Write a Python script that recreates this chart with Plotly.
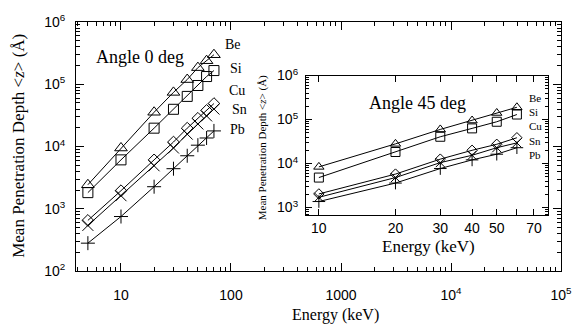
import plotly.graph_objects as go

# Mean penetration depth (Angstrom) versus beam energy (keV)
# Normal incidence (angle 0 deg)
energy_0 = [5, 10, 20, 30, 40, 50, 60, 70]
be_0 = [2430, 9460, 35500, 74000, 119000, 185000, 239000, 298000]
si_0 = [1815, 6100, 19700, 39600, 63800, 95500, 133000, 166000]
cu_0 = [650, 1950, 6100, 11800, 19700, 28400, 38000, 49000]
sn_0 = [540, 1620, 4900, 9460, 15800, 23000, 31000, 40000]
pb_0 = [280, 750, 2260, 4400, 7100, 10500, 13700, 17800]

# Oblique incidence (angle 45 deg)
energy_45 = [10, 20, 30, 40, 50, 60]
be_45 = [8400, 28000, 59600, 95000, 141000, 190000]
si_45 = [4800, 18300, 40600, 63000, 89000, 130000]
cu_45 = [2040, 5760, 12600, 20000, 27400, 38600]
sn_45 = [1710, 4800, 10500, 15400, 22900, 29500]
pb_45 = [1370, 3600, 7700, 12100, 16300, 22900]

elements = ["Be", "Si", "Cu", "Sn", "Pb"]
symbols = ["triangle-up-open", "square-open", "diamond-open", "x-thin-open", "cross-thin-open"]
sizes_main = [11, 10, 9, 11, 10]
sizes_inset = [9, 9, 8, 9, 9]

# Axis tick values and labels
main_x_ticks = [10, 100, 1000, 10000, 100000]
main_x_text = ["10", "100", "1000", "10<sup>4</sup>", "10<sup>5</sup>"]
main_y_ticks = [100, 1000, 10000, 100000, 1000000]
main_y_text = ["10<sup>2</sup>", "10<sup>3</sup>", "10<sup>4</sup>", "10<sup>5</sup>", "10<sup>6</sup>"]
inset_x_ticks = [10, 20, 30, 40, 50, 60, 70]
inset_x_text = ["10", "20", "30", "40", "50", "", "70"]
inset_y_ticks = [1000, 10000, 100000, 1000000]
inset_y_text = ["10<sup>3</sup>", "10<sup>4</sup>", "10<sup>5</sup>", "10<sup>6</sup>"]


def minor_log(lo_exp, hi_exp):
    vals = []
    for e in range(lo_exp, hi_exp):
        for m in range(2, 10):
            vals.append(m * 10 ** e)
    return vals


SANS = "Liberation Sans, Arial, sans-serif"
SERIF = "Liberation Serif, Times New Roman, serif"

fig = go.Figure()

main_sets = [be_0, si_0, cu_0, sn_0, pb_0]
for name, ys, sym, sz in zip(elements, main_sets, symbols, sizes_main):
    fig.add_trace(go.Scatter(
        x=energy_0, y=ys, name=name, mode="lines+markers",
        line=dict(color="black", width=1),
        marker=dict(symbol=sym, size=sz, color="black", line=dict(color="black", width=1)),
        xaxis="x", yaxis="y", showlegend=False,
    ))

inset_sets = [be_45, si_45, cu_45, sn_45, pb_45]
for name, ys, sym, sz in zip(elements, inset_sets, symbols, sizes_inset):
    fig.add_trace(go.Scatter(
        x=energy_45, y=ys, name=name, mode="lines+markers",
        line=dict(color="black", width=1),
        marker=dict(symbol=sym, size=sz, color="black", line=dict(color="black", width=1)),
        xaxis="x2", yaxis="y2", showlegend=False,
    ))

axis_common = dict(
    type="log", showgrid=False, zeroline=False, showline=True,
    linecolor="black", linewidth=1, mirror="ticks", ticks="inside",
    tickcolor="black", tickwidth=1, tickmode="array",
)

fig.update_layout(
    width=585, height=330,
    margin=dict(l=76, r=24, t=20, b=59),
    paper_bgcolor="white", plot_bgcolor="white",
    xaxis=dict(
        **axis_common, domain=[0, 1], anchor="y",
        range=[0.591, 5.0], tickvals=main_x_ticks, ticktext=main_x_text,
        ticklen=8, ticklabelstandoff=11,
        tickfont=dict(family=SANS, size=14, color="black"),
        minor=dict(tickmode="array", tickvals=minor_log(0, 5), ticks="inside",
                   ticklen=4, tickcolor="black", tickwidth=1, showgrid=False),
    ),
    yaxis=dict(
        **axis_common, domain=[0, 1], anchor="x",
        range=[2.0, 6.0], tickvals=main_y_ticks, ticktext=main_y_text,
        ticklen=8, ticklabelstandoff=7,
        tickfont=dict(family=SANS, size=14, color="black"),
        minor=dict(tickmode="array", tickvals=minor_log(2, 6), ticks="inside",
                   ticklen=4, tickcolor="black", tickwidth=1, showgrid=False),
    ),
    xaxis2=dict(
        **axis_common, domain=[0.474, 0.973], anchor="y2",
        range=[0.949, 1.90], tickvals=inset_x_ticks, ticktext=inset_x_text,
        ticklen=6, ticklabelstandoff=0,
        tickfont=dict(family=SANS, size=14, color="black"),
    ),
    yaxis2=dict(
        **axis_common, domain=[0.223, 0.785], anchor="x2",
        range=[2.82, 6.0], tickvals=inset_y_ticks, ticktext=inset_y_text,
        ticklen=6, ticklabelstandoff=4,
        tickfont=dict(family=SANS, size=14, color="black"),
        minor=dict(tickmode="array", tickvals=minor_log(2, 6), ticks="inside",
                   ticklen=3, tickcolor="black", tickwidth=1, showgrid=False),
    ),
)

annotations = [
    # axis titles
    dict(text="Energy (keV)", x=0.536, y=-0.175, font=dict(family=SERIF, size=16)),
    dict(text="Mean Penetration Depth &lt;<i>z</i>&gt; (Å)", x=-0.12, y=0.502,
         textangle=-90, font=dict(family=SERIF, size=17)),
    dict(text="Energy (keV)", x=0.726, y=0.098, font=dict(family=SERIF, size=17)),
    dict(text="Mean Penetration Depth &lt;<i>z</i>&gt; (Å)", x=0.386, y=0.494,
         textangle=-90, font=dict(family=SERIF, size=11)),
    # panel captions
    dict(text="Angle 0 deg", x=0.132, y=0.861, font=dict(family=SERIF, size=18)),
    dict(text="Angle 45 deg", x=0.704, y=0.673, font=dict(family=SERIF, size=18)),
]

main_label_pos = [(0.303, 0.908), (0.313, 0.813), (0.311, 0.725), (0.318, 0.649), (0.313, 0.570)]
for name, (xp, yp) in zip(elements, main_label_pos):
    annotations.append(dict(text=name, x=xp, y=yp, xanchor="left",
                            font=dict(family=SERIF, size=14)))

inset_label_pos = [(0.930, 0.693), (0.930, 0.637), (0.930, 0.582), (0.930, 0.522), (0.930, 0.466)]
for name, (xp, yp) in zip(elements, inset_label_pos):
    annotations.append(dict(text=name, x=xp, y=yp, xanchor="left",
                            font=dict(family=SERIF, size=11)))

for a in annotations:
    a.setdefault("xanchor", "center")
    a.update(xref="paper", yref="paper", yanchor="middle", showarrow=False)
    a["font"]["color"] = "black"

fig.update_layout(annotations=annotations)

fig.write_html("out.html")
